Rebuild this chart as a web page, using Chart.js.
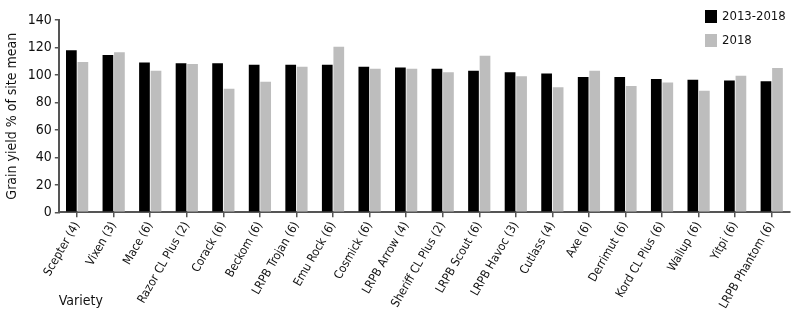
<!DOCTYPE html>
<html>
<head>
<meta charset="utf-8">
<script src="https://cdn.jsdelivr.net/npm/chart.js@4.4.1/dist/chart.umd.min.js"></script>
<style>
  html, body { margin: 0; padding: 0; background: #fff; }
  #wrap { width: 800px; height: 310px; }
</style>
</head>
<body>
<div id="wrap"><canvas id="yieldChart" width="800" height="310"></canvas></div>
<script>
    const varieties = ['Scepter (4)', 'Vixen (3)', 'Mace (6)', 'Razor CL Plus (2)', 'Corack (6)', 'Beckom (6)',
        'LRPB Trojan (6)', 'Emu Rock (6)', 'Cosmick (6)', 'LRPB Arrow (4)', 'Sheriff CL Plus (2)', 'LRPB Scout (6)',
        'LRPB Havoc (3)', 'Cutlass (4)', 'Axe (6)', 'Derrimut (6)', 'Kord CL Plus (6)', 'Wallup (6)', 'Yitpi (6)',
        'LRPB Phantom (6)'];
    const longTerm = [118, 114.5, 109, 108.5, 108.5, 107.5, 107.5, 107.5, 106, 105.5, 104.5, 103, 102, 101, 98.5, 98.5, 97, 96.5, 96, 95.5];
    const year2018 = [109.5, 116.5, 103, 108, 90, 95, 106, 120.5, 104.5, 104.5, 102, 114, 99, 91, 103, 92, 94.5, 88.5, 99.5, 105];
    const seriesNames = ['2013-2018', '2018'];
    const yTicks = [0, 20, 40, 60, 80, 100, 120, 140];

    const narrow = '"Liberation Sans Narrow", "DejaVu Sans Condensed", "Roboto", sans-serif';
    const axisColor = '#555555';

    // legend drawn top right, like the original figure
    const boxLegend = {
        id: 'boxLegend',
        afterDraw(chart) {
            const ctx = chart.ctx;
            ctx.save();
            ctx.font = '13px ' + narrow;
            ctx.textBaseline = 'middle';
            chart.data.datasets.forEach((ds, i) => {
                const y = 10 + i * 24;
                ctx.fillStyle = ds.backgroundColor;
                ctx.fillRect(705, y, 12, 13);
                ctx.fillStyle = '#111';
                ctx.fillText(ds.label, 722, y + 7);
            });
            ctx.restore();
        }
    };

    Chart.defaults.font.family = narrow;
    Chart.defaults.color = '#111';

    const ctx = document.getElementById('yieldChart').getContext('2d');
    new Chart(ctx, {
        type: 'bar',
        data: {
            labels: varieties,
            datasets: [{
                label: seriesNames[0],
                data: longTerm,
                backgroundColor: '#000000',
                categoryPercentage: 0.63,
                barPercentage: 0.93
            }, {
                label: seriesNames[1],
                data: year2018,
                backgroundColor: '#bdbdbd',
                categoryPercentage: 0.63,
                barPercentage: 0.93
            }]
        },
        options: {
            responsive: false,
            animation: false,
            layout: { padding: { top: 20, right: 10, left: 4, bottom: 0 } },
            scales: {
                y: {
                    min: 0,
                    max: 140,
                    afterBuildTicks: (axis) => { axis.ticks = yTicks.map(v => ({ value: v })); },
                    ticks: { color: '#111', font: { size: 14 }, padding: 3 },
                    grid: { drawOnChartArea: false, drawTicks: true, tickLength: 4, color: axisColor, lineWidth: 1.5 },
                    border: { color: axisColor, width: 2 },
                    title: { display: true, text: 'Grain yield % of site mean', color: '#111', font: { size: 14 }, padding: { top: 0, bottom: 4 } }
                },
                x: {
                    ticks: { color: '#111', font: { size: 12 }, minRotation: 60, maxRotation: 60, autoSkip: false, padding: 2 },
                    grid: { offset: false, drawOnChartArea: false, drawTicks: true, tickLength: 5, color: axisColor, lineWidth: 1.5 },
                    border: { color: axisColor, width: 2 },
                    title: { display: true, text: 'Variety', align: 'start', color: '#111', font: { size: 14 }, padding: { top: -20, bottom: 0 } }
                }
            },
            plugins: {
                legend: { display: false },
                tooltip: { enabled: false }
            }
        },
        plugins: [boxLegend]
    });
</script>
</body>
</html>
